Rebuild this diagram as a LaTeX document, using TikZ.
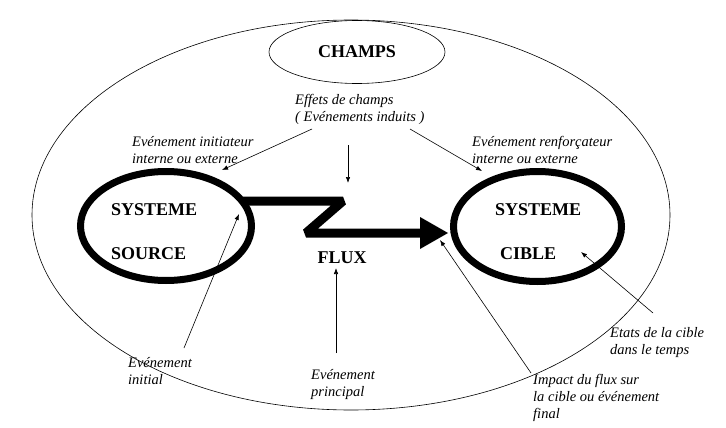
\documentclass[tikz,border=0pt]{standalone}
\usepackage{fontspec}
\setmainfont{Liberation Serif}
\usetikzlibrary{shapes.geometric,arrows.meta}
\begin{document}
\begin{tikzpicture}[x=1pt,y=-1pt,
  ital/.style={font=\fontsize{14.5}{17}\selectfont\itshape, align=left, inner sep=0pt, anchor=north west},
  boldlbl/.style={font=\fontsize{18}{20}\selectfont\bfseries, inner sep=0pt},
  thinarrow/.style={-{Latex[length=6pt,width=4.5pt]}, line width=0.6pt},
  thinell/.style={draw, ellipse, line width=0.6pt, inner sep=0pt},
  sysell/.style={draw, ellipse, line width=7pt, inner sep=0pt}]
\useasboundingbox (0,0) rectangle (726,428);
% field
\node[thinell, minimum width=638pt, minimum height=390pt] (field) at (351,215) {};
\node[thinell, minimum width=176pt, minimum height=63pt, boldlbl] (champs) at (357,52) {CHAMPS};
% systems
\node[sysell, minimum width=171pt, minimum height=109pt] (source) at (166,226) {};
\node[sysell, minimum width=168pt, minimum height=110pt] (cible) at (537.5,226.5) {};
\node[boldlbl, anchor=west] (s1) at (111,210) {SYSTEME};
\node[boldlbl, anchor=west] (s2) at (111,254) {SOURCE};
\node[boldlbl, anchor=west] (c1) at (495,210) {SYSTEME};
\node[boldlbl, anchor=west] (c2) at (500,254) {CIBLE};
\node[boldlbl] (flux) at (342,258) {FLUX};
% flux arrow
\draw[line width=9pt, line join=miter, miter limit=2]
  (source.east |- 0,201) ++(-13,0) -- (343,201) -- (306,233) -- (424,233);
\fill (420,217) -- (448,233) -- (420,249) -- cycle;
% italic labels
\node[ital] (effets) at (295,94.5) {Effets de champs\\( Evénements induits )};
\node[ital] (init) at (132,136.5) {Evénement initiateur\\interne ou externe};
\node[ital] (renf) at (472,136.5) {Evénement renforçateur\\interne ou externe};
\node[ital] (initial) at (128,357.5) {Evénement\\initial};
\node[ital] (princ) at (311,369.5) {Evénement\\principal};
\node[ital] (impact) at (533,374.5) {Impact du flux sur\\la cible ou événement\\final};
\node[ital] (etats) at (610,327.5) {Etats de la cible\\dans le temps};
% connector ends
\coordinate (e1s) at (312,129); \coordinate (e1t) at (222,170);
\coordinate (e2s) at (348,145); \coordinate (e2t) at (348,183);
\coordinate (e3s) at (410,129); \coordinate (e3t) at (482,171);
\coordinate (ps) at (336,353);  \coordinate (pt) at (336,268);
\coordinate (is) at (184,348);  \coordinate (it) at (239,214);
\coordinate (ms) at (531,373);  \coordinate (mt) at (440,240);
\coordinate (es) at (653,313);  \coordinate (et) at (581,252);
\draw[thinarrow] (e1s) -- (e1t);
\draw[thinarrow] (e2s) -- (e2t);
\draw[thinarrow] (e3s) -- (e3t);
\draw[thinarrow] (ps) -- (pt);
\draw[thinarrow] (is) -- (it);
\draw[thinarrow] (ms) -- (mt);
\draw[thinarrow] (es) -- (et);
\end{tikzpicture}
\end{document}
